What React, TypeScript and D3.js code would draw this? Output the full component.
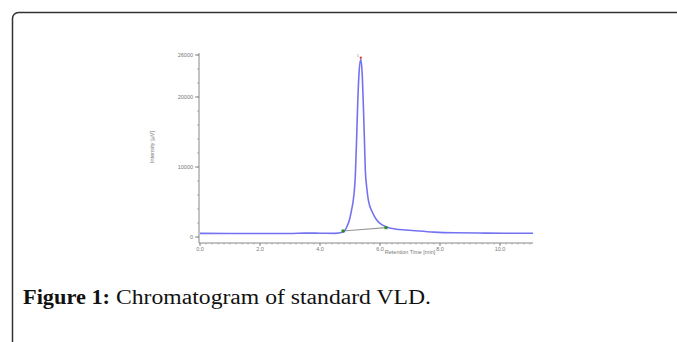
import React from "react";
import * as d3 from "d3";

const times = [0.0, 1.0, 2.0, 3.0, 3.5, 4.0, 4.5, 4.77, 4.9, 4.98, 5.05, 5.11, 5.18, 5.22, 5.26, 5.31, 5.36, 5.41, 5.44, 5.48, 5.51, 5.56, 5.61, 5.75, 5.89, 6.05, 6.22, 6.5, 6.89, 7.3, 7.8, 8.5, 9.5, 10.5, 11.1];
const intensity = [520, 500, 510, 500, 560, 540, 520, 700, 1500, 2430, 3800, 5290, 9000, 14000, 19500, 24000, 25400, 23000, 19500, 14000, 9600, 7000, 5300, 3500, 2430, 1800, 1430, 1150, 1000, 850, 700, 600, 560, 540, 530];
const xTicks = [0, 2, 4, 6, 8, 10];
const yTicks = [0, 10000, 20000, 26000];
const integStart = [4.77, 860];
const integEnd = [6.2, 1330];
const peakApex = [5.36, 25400];

export default function App() {
  const x = d3.scaleLinear().domain([0, 11.1]).range([200, 533]);
  const y = d3.scaleLinear().domain([0, 26000]).range([237, 55]);
  const data = times.map((t, i) => [t, intensity[i]] as [number, number]);
  const line = d3
    .line<[number, number]>()
    .x((d) => x(d[0]))
    .y((d) => y(d[1]))
    .curve(d3.curveMonotoneX);
  const axisY = 243;
  const axisX = 199;
  const xMinor = d3.range(0, 11.1, 0.2);
  const yMinor = d3.range(0, 26001, 2000);
  const tickFont = "Liberation Sans, Arial, sans-serif";
  return (
    <svg width={677} height={342} style={{ position: "absolute", left: 0, top: 0 }}>
      <rect x={0} y={0} width={677} height={342} fill="#fff" />
      <rect x={12.5} y={12.5} width={720} height={400} rx={6} fill="none" stroke="#333" strokeWidth={1.5} />
      {/* y axis */}
      <line x1={axisX} x2={axisX} y1={y(26000) - 2} y2={axisY} stroke="#888" strokeWidth={1} />
      {yMinor.map((v) => (
        <line key={"ym" + v} x1={axisX - 2} x2={axisX} y1={y(v)} y2={y(v)} stroke="#999" strokeWidth={0.8} />
      ))}
      {yTicks.map((v) => (
        <g key={"yt" + v}>
          <line x1={axisX - 4} x2={axisX} y1={y(v)} y2={y(v)} stroke="#888" strokeWidth={1} />
          <text x={axisX - 6} y={y(v) + 2} fontSize={5.5} fill="#777" textAnchor="end" fontFamily={tickFont}>
            {v}
          </text>
        </g>
      ))}
      <text
        transform={`translate(154,147) rotate(-90)`}
        fontSize={5.5}
        fill="#777"
        textAnchor="middle"
        fontFamily={tickFont}
      >
        Intensity [µV]
      </text>
      {/* x axis */}
      <line x1={axisX} x2={533} y1={axisY} y2={axisY} stroke="#888" strokeWidth={1} />
      {xMinor.map((t, i) => (
        <line key={"xm" + i} x1={x(t)} x2={x(t)} y1={axisY} y2={axisY + 1.5} stroke="#999" strokeWidth={0.8} />
      ))}
      {xTicks.map((t) => (
        <g key={"xt" + t}>
          <line x1={x(t)} x2={x(t)} y1={axisY} y2={axisY + 3} stroke="#888" strokeWidth={1} />
          <text x={x(t)} y={axisY + 8} fontSize={5.5} fill="#777" textAnchor="middle" fontFamily={tickFont}>
            {t.toFixed(1)}
          </text>
        </g>
      ))}
      <text x={410} y={axisY + 11} fontSize={5.5} fill="#777" textAnchor="middle" fontFamily={tickFont}>
        Retention Time [min]
      </text>
      {/* integration baseline */}
      <line
        x1={x(integStart[0])}
        y1={y(integStart[1])}
        x2={x(integEnd[0])}
        y2={y(integEnd[1])}
        stroke="#999"
        strokeWidth={1.2}
      />
      {/* chromatogram */}
      <path d={line(data) || ""} fill="none" stroke="#5a5af0" strokeWidth={1.6} strokeOpacity={0.85} />
      {/* markers */}
      <rect x={x(integStart[0]) - 1.5} y={y(integStart[1]) - 1.5} width={3} height={3} fill="#2a8a2a" />
      <rect x={x(integEnd[0]) - 1.5} y={y(integEnd[1]) - 1.5} width={3} height={3} fill="#2a8a2a" />
      <rect x={x(peakApex[0]) - 1} y={y(peakApex[1]) - 2.5} width={2} height={2} fill="#e03030" />
      <text x={x(peakApex[0]) - 3} y={y(peakApex[1]) - 2} fontSize={4} fill="#888" textAnchor="middle" fontFamily={tickFont}>
        1
      </text>
      {/* caption */}
      <text y={304} fontSize={20} fill="#111" fontFamily="Liberation Serif, serif">
        <tspan x={23} fontWeight="bold" textLength={87} lengthAdjust="spacingAndGlyphs">
          Figure 1:
        </tspan>
        <tspan x={116} textLength={315} lengthAdjust="spacingAndGlyphs">
          Chromatogram of standard VLD.
        </tspan>
      </text>
    </svg>
  );
}
